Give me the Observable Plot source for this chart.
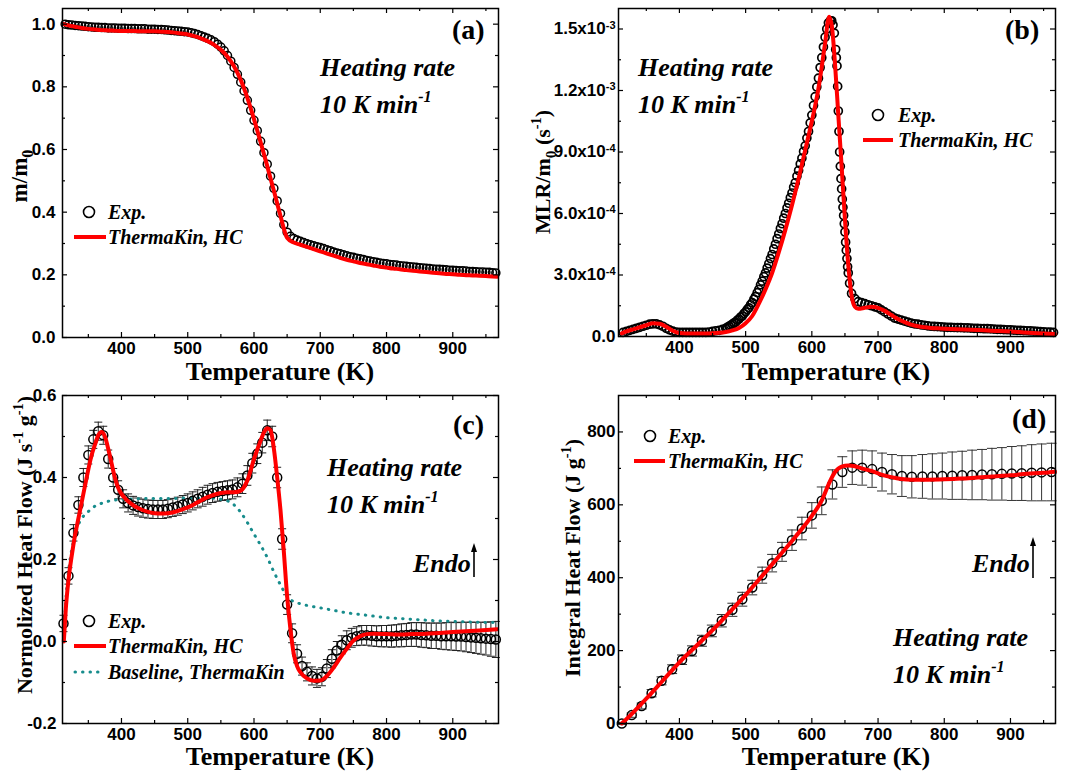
<!DOCTYPE html>
<html><head><meta charset="utf-8">
<script src="https://cdn.jsdelivr.net/npm/d3@7"></script>
<script src="https://cdn.jsdelivr.net/npm/@observablehq/plot@0.6"></script>
<style>
body{margin:0;background:#fff;}
#root{position:relative;width:1075px;height:774px;overflow:hidden;background:#fff;}
</style></head><body><div id="root"></div>
<script>
// ---------- DATA ----------
// x-axis ticks (K)
const xMajor = [400, 500, 600, 700, 800, 900];
const xMinor = [350, 450, 550, 650, 750, 850, 950];

// (a) mass fraction m/m0
const tA_exp = [315,320,325,330,335,340,345,350,355,360,
365,370,375,380,385,390,395,400,405,410,
415,420,425,430,435,440,445,450,455,460,
465,470,475,480,485,490,495,500,505,510,
515,520,525,530,535,540,545,550,555,560,
565,570,575,580,585,590,595,600,605,610,
615,620,625,630,635,640,645,650,655,660,
665,670,675,680,685,690,695,700,705,710,
715,720,725,730,735,740,745,750,755,760,
765,770,775,780,785,790,795,800,805,810,
815,820,825,830,835,840,845,850,855,860,
865,870,875,880,885,890,895,900,905,910,
915,920,925,930,935,940,945,950,955,960,965];
const mA_exp = [1.000,0.998,0.997,0.996,0.995,0.994,0.993,0.992,0.991,0.990,
0.990,0.989,0.989,0.988,0.988,0.988,0.987,0.987,0.987,0.986,
0.986,0.986,0.985,0.985,0.985,0.984,0.984,0.984,0.983,0.983,
0.982,0.981,0.980,0.979,0.978,0.977,0.976,0.975,0.973,0.970,
0.967,0.963,0.959,0.955,0.950,0.944,0.936,0.927,0.915,0.900,
0.882,0.862,0.840,0.815,0.787,0.757,0.725,0.693,0.660,0.626,
0.590,0.553,0.515,0.476,0.436,0.396,0.360,0.336,0.323,0.316,
0.311,0.307,0.303,0.299,0.296,0.293,0.290,0.287,0.284,0.280,
0.277,0.273,0.270,0.267,0.264,0.261,0.258,0.256,0.253,0.251,
0.249,0.246,0.244,0.242,0.240,0.238,0.236,0.235,0.233,0.232,
0.231,0.229,0.228,0.227,0.226,0.225,0.224,0.223,0.222,0.221,
0.220,0.219,0.218,0.218,0.217,0.216,0.215,0.215,0.214,0.213,
0.213,0.212,0.211,0.211,0.210,0.209,0.209,0.208,0.208,0.207,0.206];
const tA_mod = [313,320,330,340,350,360,370,380,390,400,410,420,430,440,450,460,470,480,490,500,
510,520,530,540,550,560,570,580,590,600,610,620,630,640,650,660,670,680,690,700,
710,720,730,740,750,760,770,780,790,800,810,820,830,840,850,860,870,880,890,900,
910,920,930,940,950,960,967];
const mA_mod = [1.000,0.996,0.992,0.988,0.985,0.983,0.981,0.980,0.979,0.978,0.978,0.978,0.977,0.977,0.977,0.976,0.975,0.973,0.970,0.967,
0.962,0.955,0.946,0.934,0.918,0.896,0.865,0.822,0.765,0.697,0.623,0.547,0.468,0.388,0.318,0.303,0.296,0.289,0.282,0.275,
0.268,0.261,0.254,0.248,0.243,0.238,0.234,0.230,0.226,0.223,0.220,0.218,0.215,0.213,0.211,0.209,0.207,0.205,0.203,0.202,
0.200,0.199,0.198,0.197,0.196,0.195,0.194];
const yTicksA = [0, 0.2, 0.4, 0.6, 0.8, 1.0];
const yLabelsA = ["0.0","0.2","0.4","0.6","0.8","1.0"];
const yMinorA = [0.1, 0.3, 0.5, 0.7, 0.9];

// (b) MLR/m0, in units of 1e-4 s^-1
const tB_exp = [315,320,325,330,335,340,345,350,355,360,
365,370,375,380,385,390,395,400,405,410,
415,420,425,430,435,440,445,450,455,460,
465,470,475,480,485,490,495,500,505,510,
515,520,525,530,535,540,545,550,555,560,
565,570,575,580,585,590,595,600,605,610,
615,620,625,628,630,632,634,636,637,638,
639,640,641,642,643,644,645,646,647,648,
649,650,651,652,653,654,655,657,660,665,
670,675,680,685,690,695,700,705,710,715,
720,725,730,735,740,745,750,755,760,765,
770,775,780,785,790,795,800,805,810,815,
820,825,830,835,840,845,850,855,860,865,
870,875,880,885,890,895,900,905,910,915,
920,925,930,935,940,945,950,955,960,965];
const mlrB_exp = [0.2,0.25,0.3,0.35,0.4,0.45,0.5,0.55,0.6,0.62,
0.62,0.57,0.5,0.4,0.32,0.26,0.22,0.2,0.2,0.2,
0.2,0.2,0.2,0.2,0.2,0.2,0.22,0.25,0.28,0.3,
0.35,0.4,0.5,0.6,0.7,0.85,1.0,1.2,1.4,1.65,
1.95,2.3,2.7,3.1,3.55,4.0,4.5,5.0,5.5,6.0,
6.5,7.0,7.5,8.1,8.7,9.3,10.0,10.8,11.7,12.6,
13.6,14.6,15.3,15.4,15.4,15.2,14.8,14.0,13.6,13.2,
12.2,11.0,10.0,9.0,8.3,7.7,7.2,6.7,6.3,5.9,
5.5,5.1,4.6,4.2,3.8,3.4,3.1,2.6,2.1,1.85,
1.7,1.65,1.6,1.55,1.5,1.45,1.4,1.3,1.2,1.1,
1.0,0.9,0.85,0.8,0.75,0.7,0.65,0.62,0.6,0.57,
0.55,0.52,0.5,0.49,0.48,0.47,0.46,0.45,0.45,0.44,
0.43,0.43,0.42,0.42,0.41,0.4,0.4,0.39,0.38,0.38,
0.37,0.36,0.35,0.35,0.34,0.33,0.32,0.31,0.3,0.3,
0.29,0.28,0.27,0.26,0.25,0.24,0.23,0.22,0.21,0.2];
// second replicate run, rising region
const tB_exp2 = [472.5,477.5,482.5,487.5,492.5,497.5,502.5,507.5,512.5,517.5,
522.5,527.5,532.5,537.5,542.5,547.5,552.5,557.5,562.5,567.5,
572.5,577.5,582.5,587.5,592.5,597.5,602.5,607.5,612.5,617.5,622.5];
const mlrB_exp2 = [0.45,0.55,0.66,0.8,0.95,1.12,1.32,1.55,1.82,2.14,
2.52,2.92,3.34,3.8,4.27,4.77,5.27,5.77,6.27,6.77,
7.28,7.82,8.42,9.03,9.68,10.42,11.27,12.17,13.12,14.12,15.0];
const tB_mod = [313,320,330,340,350,360,370,380,390,400,410,420,430,440,450,460,470,480,490,500,
510,520,530,540,550,560,570,580,590,600,610,620,626,630,635,640,645,650,655,660,665,670,
680,690,700,710,720,730,740,750,760,770,780,790,800,820,840,860,880,900,920,940,967];
const mlrB_mod = [0.15,0.25,0.35,0.45,0.55,0.65,0.62,0.48,0.28,0.17,0.15,0.15,0.15,0.15,0.16,0.18,0.22,0.3,0.42,0.65,
1.0,1.6,2.3,3.1,4.1,5.2,6.4,7.7,9.1,10.5,12.1,14.3,15.6,15.2,13.3,10.8,8.3,5.7,3.5,2.0,1.45,1.35,
1.4,1.45,1.4,1.25,1.05,0.85,0.7,0.58,0.5,0.45,0.42,0.4,0.38,0.35,0.33,0.3,0.27,0.24,0.2,0.16,0.12];
const yTicksB = [0, 3, 6, 9, 12, 15];
const yLabelsB = ["0.0","3.0x10^-4","6.0x10^-4","9.0x10^-4","1.2x10^-3","1.5x10^-3"];
const yMinorB = [1.5, 4.5, 7.5, 10.5, 13.5];

// (c) normalized heat flow, J s^-1 g^-1
const tC_exp = [312.5,320,327.5,335,342.5,350,357.5,365,372.5,380,
387.5,395,402.5,410,417.5,425,432.5,440,447.5,455,
462.5,470,477.5,485,492.5,500,507.5,515,522.5,530,
537.5,545,552.5,560,567.5,575,582.5,590,597.5,605,
612.5,620,627.5,635,642.5,650,657.5,665,672.5,680,
687.5,695,702.5,710,717.5,725,732.5,740,747.5,755,
762.5,770,777.5,785,792.5,800,807.5,815,822.5,830,
837.5,845,852.5,860,867.5,875,882.5,890,897.5,905,
912.5,920,927.5,935,942.5,950,957.5,965];
const hC_exp = [0.044,0.16,0.265,0.333,0.40,0.455,0.493,0.513,0.503,0.445,
0.40,0.37,0.348,0.338,0.332,0.328,0.325,0.323,0.322,0.322,
0.322,0.324,0.327,0.330,0.334,0.338,0.343,0.348,0.353,0.358,
0.362,0.365,0.367,0.369,0.371,0.376,0.385,0.405,0.435,0.458,
0.485,0.515,0.50,0.40,0.25,0.09,0.02,-0.03,-0.06,-0.074,
-0.084,-0.09,-0.086,-0.066,-0.042,-0.022,-0.008,0.003,0.009,0.013,
0.015,0.015,0.014,0.013,0.013,0.013,0.013,0.014,0.015,0.016,
0.017,0.017,0.016,0.015,0.014,0.014,0.013,0.013,0.013,0.012,
0.012,0.011,0.010,0.009,0.008,0.007,0.006,0.005];
const eC_exp = [0.02,0.02,0.02,0.02,0.022,0.022,0.022,0.022,0.022,0.022,
0.022,0.022,0.022,0.022,0.022,0.022,0.022,0.022,0.022,0.022,
0.022,0.022,0.022,0.022,0.022,0.022,0.022,0.022,0.023,0.023,
0.023,0.023,0.023,0.023,0.023,0.023,0.024,0.024,0.024,0.024,
0.025,0.025,0.025,0.025,0.025,0.024,0.023,0.022,0.022,0.022,
0.022,0.022,0.022,0.022,0.022,0.022,0.022,0.023,0.023,0.023,
0.024,0.024,0.025,0.025,0.026,0.026,0.027,0.027,0.028,0.028,
0.029,0.029,0.030,0.030,0.031,0.031,0.032,0.033,0.034,0.034,
0.035,0.036,0.037,0.038,0.039,0.040,0.042,0.044];
const tC_mod = [313,316,320,325,330,335,340,345,350,355,360,365,370,375,380,385,390,395,
400,410,420,430,440,450,460,470,480,490,500,510,520,530,540,550,560,570,580,590,600,610,
615,620,625,630,635,640,645,650,655,660,665,670,
680,690,700,710,720,730,740,750,760,770,780,800,820,840,860,880,900,920,940,967];
const hC_mod = [0.0,0.08,0.15,0.21,0.26,0.30,0.34,0.38,0.42,0.455,0.48,0.503,0.511,0.50,0.47,0.435,0.40,0.375,
0.36,0.342,0.33,0.322,0.316,0.313,0.312,0.313,0.316,0.321,0.327,0.335,0.344,0.352,0.358,0.362,0.364,0.364,0.368,0.393,0.445,0.49,
0.51,0.52,0.515,0.47,0.40,0.32,0.22,0.11,0.03,-0.03,-0.06,-0.075,
-0.09,-0.096,-0.095,-0.084,-0.064,-0.04,-0.018,0.002,0.013,0.018,0.019,0.018,0.017,0.018,0.019,0.021,0.023,0.025,0.027,0.030];
const tC_base = [313,316,320,325,330,335,340,350,360,370,380,390,400,420,440,460,480,500,520,540,
550,560,570,580,590,600,610,620,630,640,650,660,670,680,700,720,740,760,780,800,820,840,860,880,900,920,940,967];
const hC_base = [0.0,0.1,0.17,0.225,0.26,0.285,0.30,0.317,0.33,0.337,0.342,0.345,0.347,0.348,0.349,0.349,0.349,0.35,0.35,0.349,
0.347,0.343,0.333,0.315,0.29,0.262,0.235,0.205,0.17,0.138,0.11,0.097,0.092,0.088,0.082,0.076,0.07,0.066,0.062,0.058,0.056,0.054,0.052,0.05,0.049,0.048,0.047,0.046];
const yTicksC = [-0.2, 0, 0.2, 0.4, 0.6];
const yLabelsC = ["-0.2","0.0","0.2","0.4","0.6"];
const yMinorC = [-0.1, 0.1, 0.3, 0.5];

// (d) integral heat flow, J g^-1
const tD_exp = [313,328,343,358,373,389,404,419,434,449,464,480,495,510,525,540,555,570,585,600,
615,631,646,661,676,691,706,721,736,751,767,782,797,812,827,842,857,872,887,902,917,932,947,962];
const qD_exp = [0,23,48,83,117,149,175,199,227,254,282,312,341,373,407,440,471,503,535,571,
611,656,690,702,702,698,690,684,679,677,678,678,679,680,681,682,683,684,685,686,687,688,689,690];
const eD_exp = [3,6,8,10,11,12,13,14,15,16,17,18,19,20,22,24,26,28,31,35,
38,40,42,46,48,50,52,54,56,58,60,62,63,65,66,68,69,71,72,74,75,77,78,79];
const tD_mod = [313,330,350,375,400,425,450,475,500,525,550,575,600,615,625,635,645,655,665,675,
690,705,720,735,750,775,800,825,850,875,900,925,950,967];
const qD_mod = [0,30,68,118,168,212,256,304,353,405,458,512,570,612,655,690,705,708,706,700,
693,683,676,671,669,669,670,672,675,678,681,685,688,691];
const yTicksD = [0, 200, 400, 600, 800];
const yLabelsD = ["0","200","400","600","800"];
const yMinorD = [100, 300, 500, 700];

// ---------- RENDER ----------
const SERIF = "'Liberation Serif','Times New Roman',serif";
const SANS = "'Liberation Sans',Arial,sans-serif";
const RED = "#ff0000";
const TEAL = "#178c8c";
const root = document.getElementById("root");
const zip = (t, v, e) => t.map((x, i) => ({x, y: v[i], e: e ? e[i] : 0}));
const capSymbol = {draw(ctx, size) { const w = Math.sqrt(size / Math.PI); ctx.moveTo(-w, 0); ctx.lineTo(w, 0); }};

function errorMarks(data, color, capR) {
  return [
    Plot.ruleX(data, {x: "x", y1: d => d.y - d.e, y2: d => d.y + d.e, stroke: color, strokeWidth: 1}),
    Plot.dot(data, {x: "x", y: d => d.y + d.e, symbol: capSymbol, r: capR, stroke: color, strokeWidth: 1, fill: "none"}),
    Plot.dot(data, {x: "x", y: d => d.y - d.e, symbol: capSymbol, r: capR, stroke: color, strokeWidth: 1, fill: "none"})
  ];
}

function makePanel(c) {
  const iw = c.width - c.m.l - c.m.r, ih = c.height - c.m.t - c.m.b;
  const L = 5, l = 3;
  const svg = Plot.plot({
    width: c.width, height: c.height,
    marginLeft: c.m.l, marginRight: c.m.r, marginTop: c.m.t, marginBottom: c.m.b,
    x: {domain: c.xDomain}, y: {domain: c.yDomain},
    style: {fontFamily: SANS, fontSize: "17px", fontWeight: "bold", overflow: "visible", background: "transparent", color: "black"},
    marks: [
      ...c.marks,
      Plot.frame({stroke: "black", strokeWidth: 1.5}),
      Plot.tickX(xMajor, {x: d => d, insetTop: ih - L, strokeWidth: 1.2}),
      Plot.tickX(xMajor, {x: d => d, insetBottom: ih - L, strokeWidth: 1.2}),
      Plot.tickX(xMinor, {x: d => d, insetTop: ih - l, strokeWidth: 1.2}),
      Plot.tickX(xMinor, {x: d => d, insetBottom: ih - l, strokeWidth: 1.2}),
      Plot.tickY(c.yMajor, {y: d => d, insetRight: iw - L, strokeWidth: 1.2}),
      Plot.tickY(c.yMajor, {y: d => d, insetLeft: iw - L, strokeWidth: 1.2}),
      Plot.tickY(c.yMinor, {y: d => d, insetRight: iw - l, strokeWidth: 1.2}),
      Plot.tickY(c.yMinor, {y: d => d, insetLeft: iw - l, strokeWidth: 1.2}),
      Plot.axisX({ticks: xMajor, anchor: "bottom", tickSize: 0, tickPadding: 4, label: null, fontSize: 17, fontWeight: "bold", tickFormat: d => String(d)}),
      Plot.axisY({ticks: c.yMajor, anchor: "left", tickSize: 0, tickPadding: c.yPad, label: null, fontSize: 17, fontWeight: "bold", tickFormat: d => c.yLabels[c.yMajor.indexOf(d)]})
    ]
  });
  svg.style.position = "absolute";
  svg.style.left = c.left + "px";
  svg.style.top = c.top + "px";
  root.appendChild(svg);
  // superscripts in tick labels
  d3.select(svg).selectAll("text").each(function() {
    const s = this.textContent;
    if (!s.includes("^")) return;
    const [a, b] = s.split("^");
    this.textContent = a;
    d3.select(this).append("tspan").attr("dy", "-0.5em").attr("font-size", 11).text(b);
  });
  return svg;
}

function label(svg, x, y, segs, o = {}) {
  const size = o.size || 20;
  const t = d3.select(svg).append("text").attr("x", x).attr("y", y)
    .attr("font-family", SERIF).attr("font-weight", "bold").attr("font-size", size)
    .attr("font-style", o.italic ? "italic" : "normal")
    .attr("text-anchor", o.anchor || "start").attr("fill", "black");
  if (o.rotate) t.attr("transform", `rotate(${o.rotate},${x},${y})`);
  let cur = 0;
  for (const s of segs) {
    const [str, shift = 0, scale = 1] = Array.isArray(s) ? s : [s];
    const ts = t.append("tspan").text(str).attr("dy", (shift - cur) * size);
    if (scale !== 1) ts.attr("font-size", size * scale);
    cur = shift;
  }
  return t;
}
const SUP = -0.42, SUB = 0.28;
function legCircle(svg, x, y, r) {
  d3.select(svg).append("circle").attr("cx", x).attr("cy", y).attr("r", r).attr("fill", "none").attr("stroke", "black").attr("stroke-width", 1.6);
}
function legLine(svg, x1, x2, y, color, width, dash) {
  const l = d3.select(svg).append("line").attr("x1", x1).attr("x2", x2).attr("y1", y).attr("y2", y)
    .attr("stroke", color).attr("stroke-width", width).attr("stroke-linecap", dash ? "round" : "butt");
  if (dash) l.attr("stroke-dasharray", dash);
}
function arrow(svg, x, yb, yt) {
  const g = d3.select(svg);
  g.append("line").attr("x1", x).attr("x2", x).attr("y1", yb).attr("y2", yt + 6).attr("stroke", "black").attr("stroke-width", 1.6);
  g.append("path").attr("d", `M${x},${yt} L${x - 3},${yt + 9} L${x + 3},${yt + 9} Z`).attr("fill", "black");
}
function heating(svg, x, y) {
  label(svg, x, y, ["Heating rate"], {size: 26, italic: true});
  label(svg, x, y + 37, ["10 K min", ["-1", SUP, 0.62]], {size: 26, italic: true});
}
function tempLabel(svg, cx, y) {
  label(svg, cx, y, ["Temperature (K)"], {size: 26, anchor: "middle"});
}

// (a)
const dataA_exp = zip(tA_exp, mA_exp), dataA_mod = zip(tA_mod, mA_mod);
const svgA = makePanel({
  left: 0, top: 0, width: 537, height: 387, m: {t: 8, r: 39, b: 50, l: 62},
  xDomain: [311, 969], yDomain: [0, 1.05], yMajor: yTicksA, yLabels: yLabelsA, yMinor: yMinorA, yPad: 7,
  marks: [
    Plot.dot(dataA_exp, {x: "x", y: "y", r: 4, stroke: "black", strokeWidth: 1.5, fill: "none"}),
    Plot.line(dataA_mod, {x: "x", y: "y", stroke: RED, strokeWidth: 4, curve: "monotone-x"})
  ]
});
label(svgA, 452, 39, ["(a)"], {size: 28});
heating(svgA, 320, 76);
legCircle(svgA, 89, 212, 5.5); label(svgA, 108, 219, ["Exp."], {italic: true});
legLine(svgA, 74, 106, 237, RED, 4); label(svgA, 108, 244, ["ThermaKin, HC"], {italic: true});
tempLabel(svgA, 280, 380);
label(svgA, 27, 176, ["m/m", ["0", SUB, 0.7]], {size: 23, anchor: "middle", rotate: -90});

// (b)
const dataB_exp = zip(tB_exp, mlrB_exp).concat(zip(tB_exp2, mlrB_exp2)), dataB_mod = zip(tB_mod, mlrB_mod);
const svgB = makePanel({
  left: 537, top: 0, width: 538, height: 387, m: {t: 8, r: 20, b: 51, l: 81},
  xDomain: [308, 968], yDomain: [0, 16], yMajor: yTicksB, yLabels: yLabelsB, yMinor: yMinorB, yPad: 3,
  marks: [
    Plot.dot(dataB_exp, {x: "x", y: "y", r: 4, stroke: "black", strokeWidth: 1.7, fill: "none"}),
    Plot.line(dataB_mod, {x: "x", y: "y", stroke: RED, strokeWidth: 4, curve: "monotone-x"})
  ]
});
label(svgB, 468, 39, ["(b)"], {size: 28});
heating(svgB, 101, 76);
legCircle(svgB, 341, 115, 5.5); label(svgB, 361, 122, ["Exp."], {italic: true});
legLine(svgB, 326, 356, 140, RED, 4); label(svgB, 361, 147, ["ThermaKin, HC"], {italic: true});
tempLabel(svgB, 299, 380);
label(svgB, 13, 172, ["MLR/m", ["0", SUB, 0.7], [" (s", 0], ["-1", SUP, 0.65], [")", 0]], {size: 22, anchor: "middle", rotate: -90});

// (c)
const dataC_exp = zip(tC_exp, hC_exp, eC_exp), dataC_mod = zip(tC_mod, hC_mod), dataC_base = zip(tC_base, hC_base);
const svgC = makePanel({
  left: 0, top: 387, width: 537, height: 387, m: {t: 8, r: 39, b: 51, l: 62},
  xDomain: [311, 969], yDomain: [-0.2, 0.6], yMajor: yTicksC, yLabels: yLabelsC, yMinor: yMinorC, yPad: 6,
  marks: [
    ...errorMarks(dataC_exp, "#222", 4),
    Plot.line(dataC_base, {x: "x", y: "y", stroke: TEAL, strokeWidth: 3, strokeDasharray: "0.5,7", strokeLinecap: "round", curve: "monotone-x"}),
    Plot.dot(dataC_exp, {x: "x", y: "y", r: 4.5, stroke: "black", strokeWidth: 1.5, fill: "none"}),
    Plot.line(dataC_mod, {x: "x", y: "y", stroke: RED, strokeWidth: 4, curve: "monotone-x"})
  ]
});
label(svgC, 453, 47, ["(c)"], {size: 28});
heating(svgC, 327, 89);
label(svgC, 413, 185, ["Endo"], {size: 26, italic: true});
arrow(svgC, 474, 190, 156);
legCircle(svgC, 89, 234, 5.5); label(svgC, 108, 241, ["Exp."], {italic: true});
legLine(svgC, 74, 106, 259, RED, 4); label(svgC, 108, 266, ["ThermaKin, HC"], {italic: true});
legLine(svgC, 75, 100, 285, TEAL, 3, "0.5,7"); label(svgC, 108, 292, ["Baseline, ThermaKin"], {italic: true});
tempLabel(svgC, 280, 378);
label(svgC, 32, 158, ["Normolized Heat Flow (J s", ["-1", SUP, 0.65], [" g", 0], ["-1", SUP, 0.65], [")", 0]], {size: 22, anchor: "middle", rotate: -90});

// (d)
const dataD_exp = zip(tD_exp, qD_exp, eD_exp), dataD_mod = zip(tD_mod, qD_mod);
const svgD = makePanel({
  left: 537, top: 387, width: 538, height: 387, m: {t: 8, r: 20, b: 51, l: 81},
  xDomain: [308, 968], yDomain: [0, 900], yMajor: yTicksD, yLabels: yLabelsD, yMinor: yMinorD, yPad: 3,
  marks: [
    ...errorMarks(dataD_exp, "#333", 5),
    Plot.dot(dataD_exp, {x: "x", y: "y", r: 4.5, stroke: "black", strokeWidth: 1.5, fill: "none"}),
    Plot.line(dataD_mod, {x: "x", y: "y", stroke: RED, strokeWidth: 4, curve: "monotone-x"})
  ]
});
label(svgD, 475, 41, ["(d)"], {size: 28});
legCircle(svgD, 113, 49, 5.5); label(svgD, 131, 56, ["Exp."], {italic: true});
legLine(svgD, 97, 128, 74, RED, 4); label(svgD, 131, 81, ["ThermaKin, HC"], {italic: true});
label(svgD, 435, 185, ["Endo"], {size: 26, italic: true});
arrow(svgD, 496, 191, 150);
heating(svgD, 356, 259);
tempLabel(svgD, 299, 378);
label(svgD, 43, 171, ["Integral Heat Flow (J g", ["-1", SUP, 0.65], [")", 0]], {size: 22, anchor: "middle", rotate: -90});
</script></body></html>
